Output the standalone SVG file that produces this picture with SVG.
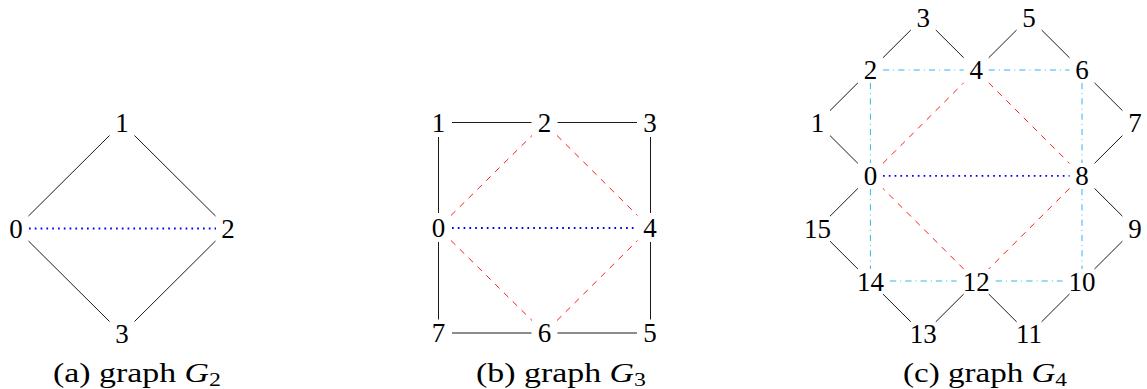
<svg xmlns="http://www.w3.org/2000/svg" width="1147" height="389" viewBox="0 0 1147 389">
<style>
.lbl{font-family:"Liberation Serif","Times New Roman",serif;font-size:27px;fill:#000;text-anchor:middle}
.cap{font-family:"Liberation Serif","Times New Roman",serif;font-size:27px;fill:#000;text-anchor:middle}
.e{stroke:#000;stroke-width:0.9;fill:none}
.r{stroke:#ff0000;stroke-width:0.9;stroke-dasharray:6.2 6.2;fill:none}
.b{stroke:#0000ff;stroke-width:1.8;stroke-dasharray:1.7 4.1;fill:none}
.c{stroke:#14b0ea;stroke-width:0.9;stroke-dasharray:6.2 4.1 0.9 4.1;fill:none}
</style>
<rect width="1147" height="389" fill="#fff"/>
<g id="connectors">
<!-- G2 -->
<line class="e" x1="28.5" y1="216" x2="109.5" y2="135.5"/>
<line class="e" x1="134.5" y1="135.5" x2="215.5" y2="216"/>
<line class="e" x1="28.5" y1="241" x2="109.5" y2="321.5"/>
<line class="e" x1="134.5" y1="321.5" x2="215.5" y2="241"/>
<line class="b" x1="29" y1="228.5" x2="216" y2="228.5"/>
<!-- G3 -->
<line class="e" x1="452" y1="122.5" x2="531.5" y2="122.5"/>
<line class="e" x1="557.5" y1="122.5" x2="637" y2="122.5"/>
<line class="e" x1="452" y1="333" x2="531.5" y2="333"/>
<line class="e" x1="557.5" y1="333" x2="637" y2="333"/>
<line class="e" x1="438.5" y1="137" x2="438.5" y2="213"/>
<line class="e" x1="438.5" y1="242" x2="438.5" y2="319.5"/>
<line class="e" x1="650.5" y1="137" x2="650.5" y2="213"/>
<line class="e" x1="650.5" y1="242" x2="650.5" y2="319.5"/>
<line class="r" x1="451" y1="215.5" x2="532" y2="135.5"/>
<line class="r" x1="557" y1="135.5" x2="637.5" y2="215.5"/>
<line class="r" x1="451" y1="240.5" x2="532" y2="320.5"/>
<line class="r" x1="557" y1="320.5" x2="637.5" y2="240.5"/>
<line class="b" x1="452" y1="228" x2="637" y2="228"/>
<!-- G4 black -->
<line class="e" x1="910.8" y1="30" x2="882.9" y2="57.8"/>
<line class="e" x1="935.8" y1="30" x2="963.7" y2="57.8"/>
<line class="e" x1="1016.6" y1="30" x2="988.7" y2="57.8"/>
<line class="e" x1="1041.6" y1="30" x2="1069.5" y2="57.8"/>
<line class="e" x1="830" y1="110.6" x2="857.9" y2="82.8"/>
<line class="e" x1="830" y1="135.6" x2="857.9" y2="163.4"/>
<line class="e" x1="1122.4" y1="110.6" x2="1094.5" y2="82.8"/>
<line class="e" x1="1122.4" y1="135.6" x2="1094.5" y2="163.4"/>
<line class="e" x1="830" y1="216.2" x2="857.9" y2="188.4"/>
<line class="e" x1="830" y1="241.2" x2="857.9" y2="269"/>
<line class="e" x1="1122.4" y1="216.2" x2="1094.5" y2="188.4"/>
<line class="e" x1="1122.4" y1="241.2" x2="1094.5" y2="269"/>
<line class="e" x1="910.8" y1="321.8" x2="882.9" y2="294"/>
<line class="e" x1="935.8" y1="321.8" x2="963.7" y2="294"/>
<line class="e" x1="1016.6" y1="321.8" x2="988.7" y2="294"/>
<line class="e" x1="1041.6" y1="321.8" x2="1069.5" y2="294"/>
<!-- G4 red -->
<line class="r" x1="882.9" y1="163.4" x2="963.7" y2="82.8"/>
<line class="r" x1="988.7" y1="82.8" x2="1069.5" y2="163.4"/>
<line class="r" x1="1069.5" y1="188.4" x2="988.7" y2="269"/>
<line class="r" x1="963.7" y1="269" x2="882.9" y2="188.4"/>
<!-- G4 blue -->
<line class="b" x1="883" y1="175.9" x2="1069.5" y2="175.9"/>
<!-- G4 cyan -->
<line class="c" x1="883" y1="70" x2="963.7" y2="70"/>
<line class="c" x1="988.7" y1="70" x2="1069.5" y2="70"/>
<line class="c" x1="870.4" y1="83" x2="870.4" y2="163"/>
<line class="c" x1="870.4" y1="189" x2="870.4" y2="269"/>
<line class="c" x1="1082" y1="83" x2="1082" y2="163"/>
<line class="c" x1="1082" y1="189" x2="1082" y2="269"/>
<line class="c" x1="890" y1="281" x2="956.7" y2="281"/>
<line class="c" x1="995.7" y1="281" x2="1062.5" y2="281"/>
</g>
<!-- G2 nodes -->
<g id="g2-n0"><text class="lbl" x="16" y="237.5">0</text></g>
<g id="g2-n1"><text class="lbl" x="122" y="132">1</text></g>
<g id="g2-n2"><text class="lbl" x="228" y="237.5">2</text></g>
<g id="g2-n3"><text class="lbl" x="122" y="343">3</text></g>
<!-- G3 nodes -->
<g id="g3-n0"><text class="lbl" x="438.5" y="237">0</text></g>
<g id="g3-n1"><text class="lbl" x="438.5" y="132">1</text></g>
<g id="g3-n2"><text class="lbl" x="544.5" y="132">2</text></g>
<g id="g3-n3"><text class="lbl" x="650" y="132">3</text></g>
<g id="g3-n4"><text class="lbl" x="650" y="237">4</text></g>
<g id="g3-n5"><text class="lbl" x="650" y="342">5</text></g>
<g id="g3-n6"><text class="lbl" x="544.5" y="342">6</text></g>
<g id="g3-n7"><text class="lbl" x="438.5" y="342">7</text></g>
<!-- G4 nodes -->
<g id="g4-n0"><text class="lbl" x="870.4" y="184.8">0</text></g>
<g id="g4-n1"><text class="lbl" x="817.5" y="132">1</text></g>
<g id="g4-n2"><text class="lbl" x="870.4" y="79.3">2</text></g>
<g id="g4-n3"><text class="lbl" x="923.3" y="26.5">3</text></g>
<g id="g4-n4"><text class="lbl" x="976.2" y="79.3">4</text></g>
<g id="g4-n5"><text class="lbl" x="1029.1" y="26.5">5</text></g>
<g id="g4-n6"><text class="lbl" x="1082" y="79.3">6</text></g>
<g id="g4-n7"><text class="lbl" x="1134.9" y="132">7</text></g>
<g id="g4-n8"><text class="lbl" x="1082" y="185">8</text></g>
<g id="g4-n9"><text class="lbl" x="1134.9" y="238">9</text></g>
<g id="g4-n10"><text class="lbl" x="1082" y="290.5">10</text></g>
<g id="g4-n11"><text class="lbl" x="1029.1" y="343">11</text></g>
<g id="g4-n12"><text class="lbl" x="976.2" y="290.5">12</text></g>
<g id="g4-n13"><text class="lbl" x="923.3" y="343">13</text></g>
<g id="g4-n14"><text class="lbl" x="870.4" y="290.5">14</text></g>
<g id="g4-n15"><text class="lbl" x="817.5" y="238">15</text></g>
<!-- captions -->
<g id="caption-a"><text class="cap" x="137" y="382" textLength="168" lengthAdjust="spacingAndGlyphs">(a) graph <tspan font-style="italic">G</tspan><tspan font-size="19" dy="4">2</tspan></text></g>
<g id="caption-b"><text class="cap" x="561" y="382" textLength="170" lengthAdjust="spacingAndGlyphs">(b) graph <tspan font-style="italic">G</tspan><tspan font-size="19" dy="4">3</tspan></text></g>
<g id="caption-c"><text class="cap" x="985" y="382" textLength="164" lengthAdjust="spacingAndGlyphs">(c) graph <tspan font-style="italic">G</tspan><tspan font-size="19" dy="4">4</tspan></text></g>
</svg>
